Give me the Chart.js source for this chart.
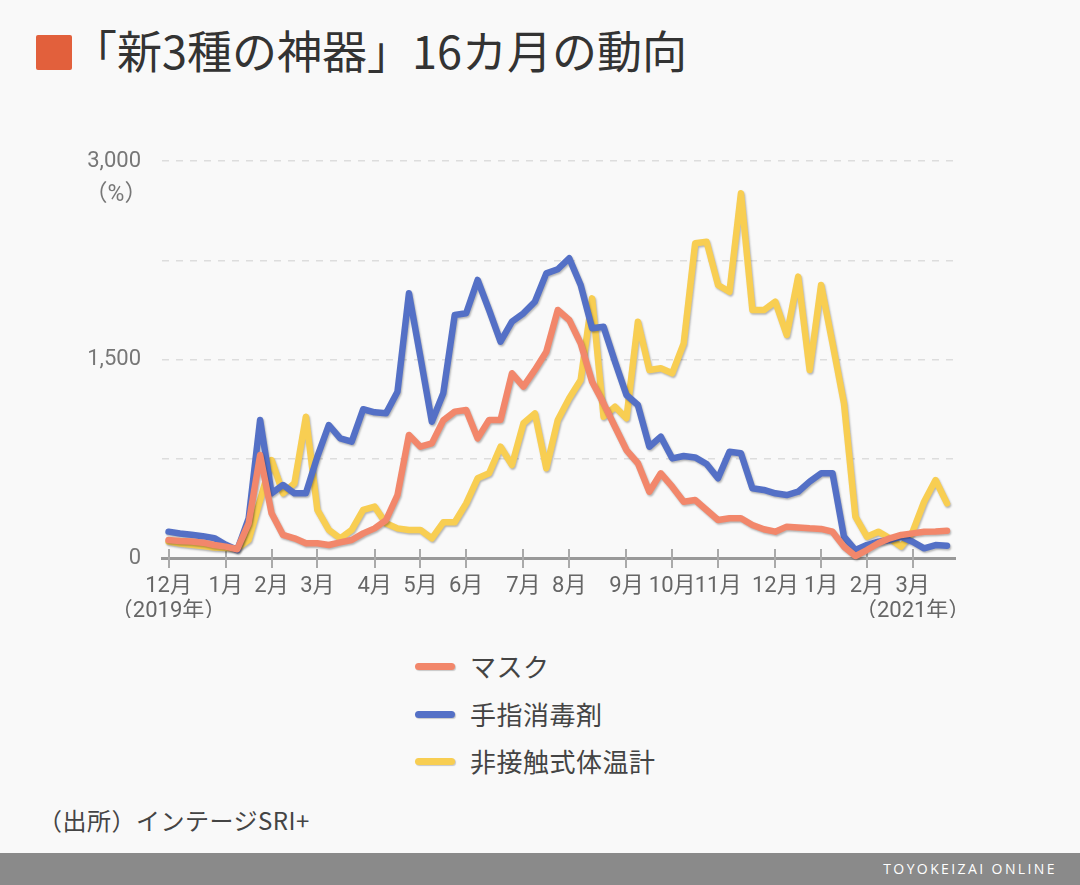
<!DOCTYPE html>
<html>
<head>
<meta charset="utf-8">
<script src="https://cdn.jsdelivr.net/npm/chart.js@4"></script>
<style>
body { margin:0; width:1080px; height:885px; background:#f9f9f9; position:relative; overflow:hidden;
  font-family:"Noto Sans CJK JP","Noto Sans",sans-serif; color:#333; }
#title { position:absolute; left:36px; top:23px; font-size:45px; line-height:54px; color:#333; white-space:nowrap; }
#title .sq { display:inline-block; width:36px; height:35px; background:#e2603c; border-radius:2px; vertical-align:-1px; margin-right:0; }
#wrap { position:absolute; left:0; top:0; width:1080px; height:640px; }
.leg { position:absolute; left:415px; font-size:26px; color:#444; }
.leg i { position:absolute; left:0; top:50%; width:40px; height:7px; border-radius:4px; margin-top:-3px; box-shadow:1px 1px 1px rgba(0,0,0,0.2); }
.leg span { position:absolute; left:55px; top:-19px; white-space:nowrap; letter-spacing:0.5px; }
#src { position:absolute; left:38px; top:802px; font-size:24px; color:#444; letter-spacing:0.5px; }
#foot { position:absolute; left:0; top:853px; width:1080px; height:32px; background:#8a8a8a; }
#foot span { position:absolute; right:23px; top:6px; color:#fff; font-family:"Open Sans",sans-serif; font-size:14px; letter-spacing:2.4px; }
</style>
</head>
<body>
<div id="title"><span class="sq"></span>「新3種の神器」16カ月の動向</div>
<div id="wrap"><canvas id="chart" width="1080" height="640"></canvas></div>
<div class="leg" style="top:666px"><i style="background:#f2876b"></i><span>マスク</span></div>
<div class="leg" style="top:714px"><i style="background:#5470c6"></i><span>手指消毒剤</span></div>
<div class="leg" style="top:761px"><i style="background:#f8ce52"></i><span>非接触式体温計</span></div>
<div id="src">（出所）インテージSRI+</div>
<div id="foot"><span>TOYOKEIZAI ONLINE</span></div>
<script>
// weekly index -> month tick labels
var monthIdx = [0, 5, 9, 13, 18, 22, 26, 31, 35, 40, 44, 48, 53, 57, 61, 65];
var monthLabels = [['12月', '（2019年）'], '1月', '2月', '3月', '4月', '5月', '6月', '7月', '8月',
  '9月', '10月', '11月', '12月', '1月', '2月', ['3月', '（2021年）']];

var mask = [136, 128, 124, 116, 98, 86, 66, 262, 778, 338, 174, 149, 111, 111, 98, 118, 136, 186, 224, 287,
  476, 930, 841, 866, 1040, 1106, 1118, 904, 1043, 1043, 1396, 1295, 1421, 1559, 1874, 1799, 1622, 1332, 1169, 992,
  816, 716, 501, 640, 539, 425, 438, 363, 287, 300, 300, 249, 217, 199, 237, 231, 224, 220, 199, 86,
  15, 60, 111, 149, 174, 186, 199, 201, 206];
var sanitizer = [199, 185, 175, 165, 150, 100, 60, 300, 1043, 489, 552, 489, 489, 766, 1005, 904, 879, 1124, 1101, 1093,
  1257, 2000, 1520, 1030, 1245, 1836, 1849, 2101, 1874, 1635, 1786, 1849, 1937, 2151, 2182, 2265, 2063, 1736, 1748, 1483,
  1232, 1156, 841, 917, 753, 771, 760, 710, 602, 803, 791, 527, 514, 489, 476, 501, 577, 640, 640, 161,
  60, 98, 123, 136, 161, 123, 73, 98, 93];
var thermo = [124, 110, 100, 90, 80, 75, 73, 137, 438, 740, 489, 565, 1068, 363, 212, 149, 212, 363, 388, 262,
  224, 212, 212, 149, 270, 270, 413, 602, 640, 841, 703, 1018, 1093, 678, 1043, 1207, 1345, 1962, 1068, 1143,
  1056, 1786, 1421, 1434, 1396, 1622, 2378, 2390, 2063, 2012, 2756, 1874, 1874, 1937, 1685, 2126, 1421, 2063, 1622, 1169,
  312, 161, 199, 149, 86, 199, 425, 589, 413];

function pts(arr) {
  return arr.map(function (v, i) { return { x: i, y: v }; });
}

var shadowPlugin = {
  id: 'shadow',
  beforeDatasetDraw: function (chart) {
    var c = chart.ctx;
    c.save();
    c.shadowColor = 'rgba(0,0,0,0.28)';
    c.shadowBlur = 2;
    c.shadowOffsetX = 1;
    c.shadowOffsetY = 1.5;
  },
  afterDatasetDraw: function (chart) {
    chart.ctx.restore();
  }
};

var extras = {
  id: 'extras',
  beforeDatasetsDraw: function (chart) {
    var c = chart.ctx, xs = chart.scales.x, ys = chart.scales.y;
    var yb = ys.getPixelForValue(0);
    c.save();
    c.strokeStyle = '#aaa';
    c.lineWidth = 2;
    monthIdx.forEach(function (m) {
      var x = Math.round(xs.getPixelForValue(m));
      c.beginPath();
      c.moveTo(x, yb - 9);
      c.lineTo(x, yb + 10);
      c.stroke();
    });
    c.fillStyle = '#777';
    c.font = '23px Roboto, "Noto Sans CJK JP"';
    c.textAlign = 'center';
    c.textBaseline = 'middle';
    c.fillText('（%）', 116, ys.getPixelForValue(3000) + 34);
    c.restore();
  }
};

var ctx = document.getElementById('chart').getContext('2d');
var myChart = new Chart(ctx, {
  type: 'line',
  data: {
    datasets: [{
      label: 'マスク',
      data: pts(mask),
      borderColor: '#f2876b',
      order: 1
    }, {
      label: '手指消毒剤',
      data: pts(sanitizer),
      borderColor: '#5470c6',
      order: 2
    }, {
      label: '非接触式体温計',
      data: pts(thermo),
      borderColor: '#f8ce52',
      order: 3
    }]
  },
  options: {
    responsive: false,
    animation: false,
    events: [],
    layout: { padding: { left: 0, right: 125, top: 161, bottom: 22 } },
    elements: {
      point: { radius: 0 },
      line: { borderWidth: 6.5, borderJoinStyle: 'round', borderCapStyle: 'round', tension: 0 }
    },
    clip: false,
    plugins: { legend: { display: false }, tooltip: { enabled: false } },
    scales: {
      x: {
        type: 'linear',
        min: -0.57,
        max: 68.7,
        afterBuildTicks: function (s) {
          s.ticks = monthIdx.map(function (v) { return { value: v }; });
        },
        afterFit: function (s) { s.height = 60; },
        ticks: {
          autoSkip: false,
          maxRotation: 0,
          padding: 8,
          color: '#666',
          font: { size: 22, family: 'Roboto, "Noto Sans CJK JP"', lineHeight: 1.15 },
          callback: function (v) {
            var k = monthIdx.indexOf(v);
            return k < 0 ? '' : monthLabels[k];
          }
        },
        grid: { display: false },
        border: { display: true, color: '#999', width: 3 }
      },
      y: {
        min: 0,
        max: 3000,
        afterFit: function (s) { s.width = 162; },
        ticks: {
          stepSize: 750,
          padding: 21,
          color: '#777',
          font: { size: 22, family: 'Roboto, "Noto Sans CJK JP"' },
          callback: function (v) {
            return v % 1500 === 0 ? v.toLocaleString('en-US') : '';
          }
        },
        grid: { color: '#ddd', lineWidth: 1.5, drawTicks: false },
        border: { display: false, dash: [7, 7] }
      }
    }
  },
  plugins: [shadowPlugin, extras]
});
</script>
</body>
</html>
